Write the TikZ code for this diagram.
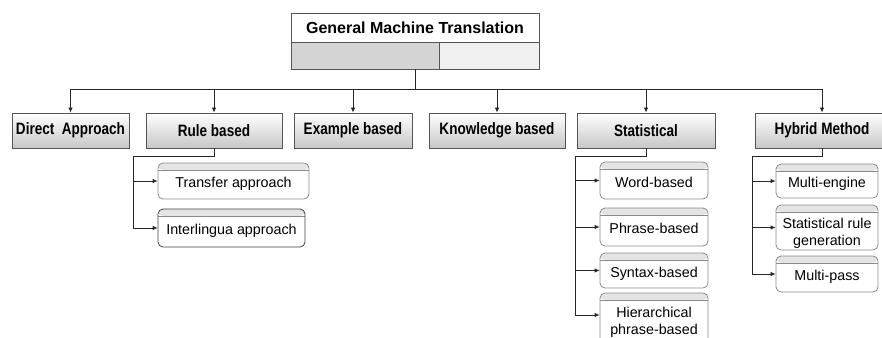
\documentclass[tikz,border=0pt]{standalone}
\usepackage{fontspec}
\setmainfont{Liberation Sans}
\newfontfamily\narrowfont[FakeStretch=0.82]{Liberation Sans}
\usetikzlibrary{arrows.meta,calc}
\definecolor{edge}{HTML}{555555}
\definecolor{subedge}{HTML}{8A8A8A}
\definecolor{hdr}{HTML}{E4E4E4}
\tikzset{
  conn/.style={line width=0.8pt,draw=black!85},
  arr/.style={conn,-{Latex[length=5pt,width=4.5pt]}},
  mainbox/.style={draw=edge,line width=0.9pt,top color=white,bottom color=black!22,
    inner sep=0pt,font=\narrowfont\bfseries\fontsize{16.5}{19}\selectfont},
  subbox/.style={draw=subedge,line width=0.8pt,rounded corners=5pt,fill=white,inner sep=0pt,
    align=center,font=\fontsize{14.3}{17}\selectfont,text height=17pt,text depth=3.5pt,
    path picture={
      \fill[hdr] (path picture bounding box.north west) rectangle ([yshift=-7pt]path picture bounding box.north east);
      \draw[subedge,line width=0.6pt] ([yshift=-7pt]path picture bounding box.north west) -- ([yshift=-7pt]path picture bounding box.north east);
    }},
}
\begin{document}
\begin{tikzpicture}[x=1pt,y=-1pt]
\useasboundingbox (0,0) rectangle (882,337);
% title
\node[draw=edge,line width=0.9pt,fill=white,minimum width=248pt,minimum height=29pt,inner sep=0pt,
  font=\bfseries\fontsize{16}{19}\selectfont] (gmt) at (415,27.5) {General Machine Translation};
\node[draw=edge,line width=0.9pt,fill=black!17,minimum width=148pt,minimum height=27pt,inner sep=0pt] (gmtL) at (365,55.5) {};
\node[draw=edge,line width=0.9pt,fill=black!6,minimum width=100pt,minimum height=27pt,inner sep=0pt] (gmtR) at (489,55.5) {};
% level 1
\node[mainbox,minimum width=117pt,minimum height=35pt] (direct) at (70.5,130.5) {Direct\ \ Approach};
\node[mainbox,minimum width=136pt,minimum height=35pt] (rule) at (214,130.5) {Rule based};
\node[mainbox,minimum width=118pt,minimum height=35pt] (example) at (353,130.5) {Example based};
\node[mainbox,minimum width=136pt,minimum height=35pt] (know) at (497,130.5) {Knowledge based};
\node[mainbox,minimum width=138pt,minimum height=35pt] (stat) at (646,130.5) {Statistical};
\node[mainbox,minimum width=134pt,minimum height=35pt] (hybrid) at (822,130.5) {Hybrid Method};
% bus
\coordinate (bus) at (415,89);
\draw[conn] (gmtL.south -| bus) -- (bus);
\draw[conn] (direct.north |- bus) -- (hybrid.north |- bus);
\foreach \n in {direct,rule,example,know,stat,hybrid}
  \draw[arr] (\n.north |- bus) -- (\n.north);
% rule children
\node[subbox,minimum width=151pt,minimum height=36pt] (transfer) at (233.5,181) {Transfer approach};
\node[subbox,draw=black!75,minimum width=147pt,minimum height=38pt] (inter) at (231.5,228) {Interlingua approach};
\coordinate (rb) at (133,156);
\draw[conn] (rule.south) -- (rule.south |- rb) -- (rb) -- (rb |- inter.west);
\draw[arr] (rb |- transfer.west) -- (transfer.west);
\draw[arr] (rb |- inter.west) -- (inter.west);
% statistical children
\node[subbox,minimum width=108pt,minimum height=37pt] (word) at (654,180.5) {Word-based};
\node[subbox,minimum width=108pt,minimum height=38pt] (phrase) at (654,227) {Phrase-based};
\node[subbox,minimum width=108pt,minimum height=35pt] (syntax) at (654,270.5) {Syntax-based};
\node[subbox,text height=32pt,minimum width=108pt,minimum height=54pt] (hier) at (654,320) {Hierarchical\\phrase-based};
\coordinate (sb) at (575,156);
\draw[conn] (stat.south) -- (stat.south |- sb) -- (sb) -- (sb |- 0,315);
\draw[arr] (sb |- word.west) -- (word.west);
\draw[arr] (sb |- phrase.west) -- (phrase.west);
\draw[arr] (sb |- syntax.west) -- (syntax.west);
\draw[arr] (sb |- 0,315) -- (hier.west |- 0,315);
% hybrid children
\node[subbox,minimum width=102pt,minimum height=34pt] (engine) at (827,181) {Multi-engine};
\node[subbox,text height=40pt,minimum width=102pt,minimum height=45pt] (srg) at (827,227.5) {Statistical rule\\generation};
\node[subbox,minimum width=102pt,minimum height=36pt] (pass) at (827,274) {Multi-pass};
\coordinate (hb) at (752,156);
\draw[conn] (hybrid.south) -- (hybrid.south |- hb) -- (hb) -- (hb |- pass.west);
\draw[arr] (hb |- engine.west) -- (engine.west);
\draw[arr] (hb |- srg.west) -- (srg.west);
\draw[arr] (hb |- pass.west) -- (pass.west);
\end{tikzpicture}
\end{document}
